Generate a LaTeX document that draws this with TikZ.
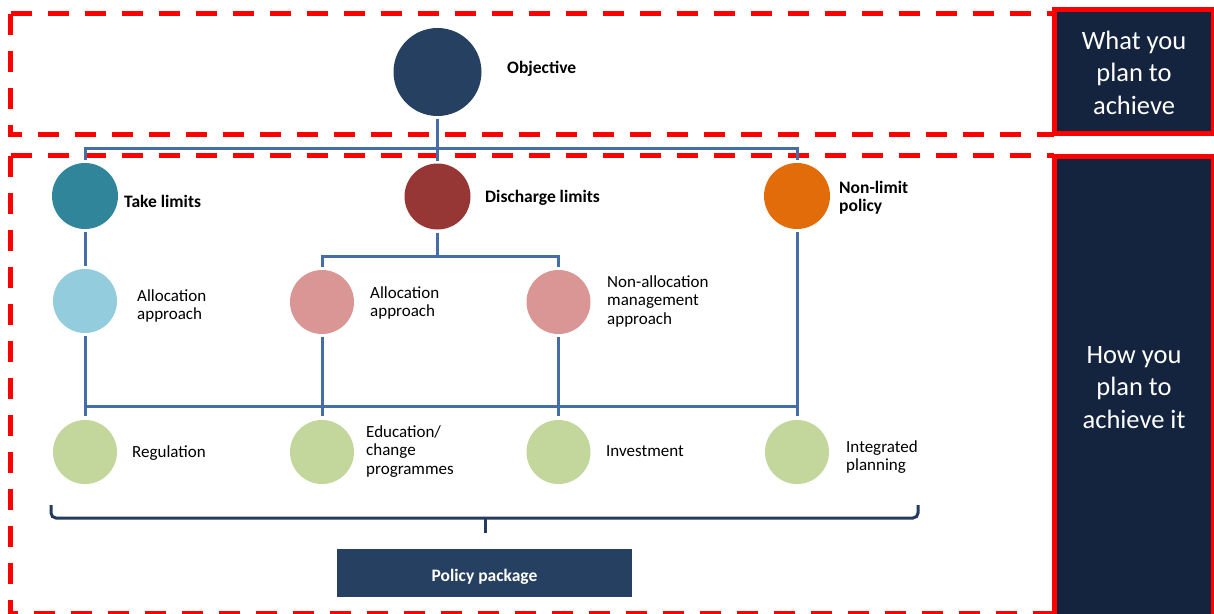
\documentclass[tikz,border=0pt]{standalone}
\usepackage{fontspec}
\setmainfont{Carlito}
\usetikzlibrary{shapes.geometric}
\definecolor{objblue}{RGB}{38,64,97}
\definecolor{taketeal}{RGB}{49,133,155}
\definecolor{dischred}{RGB}{150,55,53}
\definecolor{nlorange}{RGB}{227,108,10}
\definecolor{lightblue}{RGB}{147,205,221}
\definecolor{pinkfill}{RGB}{217,150,148}
\definecolor{greenfill}{RGB}{195,214,155}
\definecolor{connblue}{RGB}{68,110,165}
\definecolor{bracenavy}{RGB}{36,58,94}
\definecolor{sidenavy}{RGB}{20,36,63}
\newcommand{\mylines}[2][l]{\begin{tabular}[t]{@{}#1@{}}#2\end{tabular}}
\begin{document}
\begin{tikzpicture}[x=1pt,y=-1pt,
  dot/.style={circle, inner sep=0pt, outer sep=3pt, minimum size=#1},
  lbl/.style={anchor=base west, inner sep=0pt, font=\fontsize{17}{18.5}\selectfont},
  blbl/.style={anchor=base west, inner sep=0pt, font=\fontsize{17.5}{18.5}\selectfont\bfseries},
  conn/.style={draw=connblue, line width=3pt},
  bracestyle/.style={draw=bracenavy, line width=3pt},
  zone/.style={draw=red, line width=5pt, dash pattern=on 21pt off 16pt},
  sidebox/.style={draw=red, line width=5pt, fill=sidenavy},
  sidetext/.style={anchor=base, inner sep=0pt, text=white, font=\fontsize{26.5}{32.5}\selectfont}]
\useasboundingbox (0,0) rectangle (1214,613);
\clip (0,0) rectangle (1214,613);
% zones
\draw[zone] (10.5,13.5) -- (1054,13.5);
\draw[zone] (10.5,13.5) -- (10.5,134) -- (1054,134);
\draw[zone] (10.5,155.5) -- (1054,155.5);
\draw[zone] (10.5,155.5) -- (10.5,613.5) -- (1054,613.5);
\draw[sidebox] (1054.5,9.5) rectangle (1213,133.5);
\draw[sidebox] (1054.5,156.5) rectangle (1213,625);
\node[sidetext] (what) at (1134,49) {\mylines[c]{What you\\plan to\\achieve}};
\node[sidetext] (how) at (1134,363) {\mylines[c]{How you\\plan to\\achieve it}};
% circles
\node[dot=88pt, fill=objblue] (obj) at (437.5,72) {};
\node[dot=66pt, fill=taketeal] (take) at (85,196) {};
\node[dot=66pt, fill=dischred] (dis) at (437.5,196.5) {};
\node[dot=66pt, fill=nlorange] (nl) at (797,196) {};
\node[dot=64pt, fill=lightblue] (a1) at (85,301) {};
\node[dot=64pt, fill=pinkfill] (a2) at (322,302) {};
\node[dot=64pt, fill=pinkfill] (na) at (558.5,302) {};
\node[dot=64pt, fill=greenfill, outer sep=4pt] (reg) at (85,452) {};
\node[dot=64pt, fill=greenfill, outer sep=4pt] (edu) at (322,452) {};
\node[dot=64pt, fill=greenfill, outer sep=4pt] (inv) at (558.5,452) {};
\node[dot=64pt, fill=greenfill, outer sep=4pt] (int) at (797,452) {};
% connectors
\coordinate (topbar) at (437.5,148);
\draw[conn] (take.north) |- (topbar) -| (nl.north);
\draw[conn] (obj.south) -- (dis.north);
\draw[conn] (take.south) -- (a1.north);
\coordinate (disbar) at (437.5,256);
\draw[conn] (dis.south) -- (disbar);
\draw[conn] (a2.north) |- (disbar) -| (na.north);
\draw[conn] (a1.south) -- (reg.north);
\draw[conn] (a2.south) -- (edu.north);
\draw[conn] (na.south) -- (inv.north);
\draw[conn] (nl.south) -- (int.north);
\coordinate (botbar) at (441,406);
\draw[conn] (reg.north |- botbar) -- (int.north |- botbar);
% labels
\node[blbl] (objl) at (507,73) {Objective};
\node[blbl] (takel) at (124,207) {Take limits};
\node[blbl] (disl) at (485,202) {Discharge limits};
\node[blbl] (nll) at (839,193) {\mylines{Non-limit\\policy}};
\node[lbl] (a1l) at (137,301) {\mylines{Allocation\\approach}};
\node[lbl] (a2l) at (370,298) {\mylines{Allocation\\approach}};
\node[lbl] (nal) at (607,287) {\mylines{Non-allocation\\management\\approach}};
\node[lbl] (regl) at (132,457) {Regulation};
\node[lbl] (edul) at (366,437) {\mylines{Education/\\change\\programmes}};
\node[lbl] (invl) at (606,456) {Investment};
\node[lbl] (intl) at (846,452) {\mylines{Integrated\\planning}};
% brace
\coordinate (bl) at (51,505);
\coordinate (bm) at (485,518);
\coordinate (bt) at (485,533);
\coordinate (br) at (918,505);
\draw[bracestyle, rounded corners=5pt] (bl) |- (bm) -| (br);
\draw[bracestyle] (bm) -- (bt);
% policy package
\node[fill=objblue, minimum width=295pt, minimum height=48pt, inner sep=0pt, text=white,
  font=\fontsize{17.5}{18.5}\selectfont\bfseries, text height=17pt, text depth=0pt] (pp) at (484.5,573) {Policy package};
\end{tikzpicture}
\end{document}
